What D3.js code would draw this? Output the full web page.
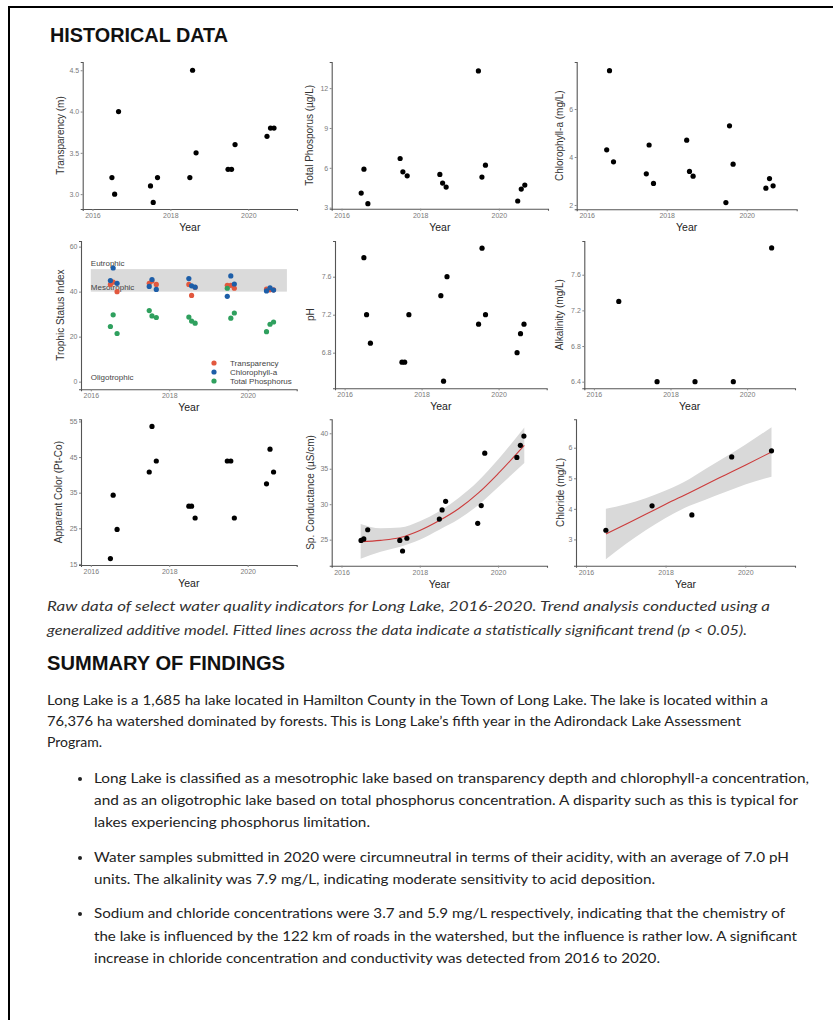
<!DOCTYPE html>
<html>
<head>
<meta charset="utf-8">
<script src="https://cdn.jsdelivr.net/npm/d3@7"></script>
<style>
    body { margin: 0; background: #fff; }
    svg text { font-family: "Liberation Sans", Arial, sans-serif; }
    .body-text { font-family: Lato, "Open Sans", sans-serif !important; font-size: 14px; fill: #222; }
</style>
</head>
<body>
<div id="page"></div>
<script>
    // ---- data ----
    // sampling dates (decimal year), three visits a summer
    var sampleDate = [2016.5, 2016.57, 2016.67, 2017.49, 2017.56, 2017.67, 2018.5, 2018.57, 2018.66,
        2019.48, 2019.57, 2019.66, 2020.48, 2020.57, 2020.66];
    var transparency = [3.2, 3.0, 4.0, 3.1, 2.9, 3.2, 3.2, 4.5, 3.5, 3.3, 3.3, 3.6, 3.7, 3.8, 3.8];
    var phosphorus = [4.1, 5.9, 3.3, 6.7, 5.7, 5.4, 5.5, 4.85, 4.55, 13.3, 5.3, 6.2, 3.5, 4.4, 4.7];
    var chlorophyll = [4.3, 7.6, 3.8, 3.3, 4.5, 2.9, 4.7, 3.4, 3.2, 2.1, 5.3, 3.7, 2.7, 3.1, 2.8];
    var tsiTransp = [43.2, 44.2, 40.0, 43.7, 44.7, 43.2, 43.2, 38.3, 41.9, 42.8, 42.8, 41.5, 41.1, 40.8, 40.8];
    var tsiChl = [44.9, 50.5, 43.7, 42.3, 45.4, 41.0, 45.8, 42.6, 42.0, 37.9, 47.0, 43.4, 40.3, 41.7, 40.7];
    var tsiTP = [24.5, 29.7, 21.4, 31.6, 29.2, 28.5, 28.7, 26.9, 26.0, 41.5, 28.2, 30.5, 22.2, 25.5, 26.5];
    var ph = [7.8, 7.2, 6.9, 6.7, 6.7, 7.2, 7.4, 6.5, 7.6, 7.1, 7.9, 7.2, 6.8, 7.0, 7.1];
    var color = [16.5, 34.3, 24.7, 40.8, 53.6, 43.9, 31.2, 31.2, 27.9, 43.9, 43.9, 27.9, 37.5, 47.2, 40.8];
    var conductance = [24.9, 25.1, 26.4, 24.9, 23.4, 25.2, 27.9, 29.2, 30.4, 27.3, 29.8, 37.2, 36.6, 38.3, 39.6];

    // annual samples
    var alkDate = [2016.65, 2017.65, 2018.64, 2019.64, 2020.64];
    var alkalinity = [7.3, 6.4, 6.4, 6.4, 7.9];
    var clDate = [2016.5, 2017.66, 2018.66, 2019.66, 2020.66];
    var chloride = [3.3, 4.1, 3.8, 5.7, 5.9];

    // GAM fits with confidence band
    var condFitDate = [2016.49, 2017.0, 2017.5, 2018.0, 2018.5, 2019.0, 2019.5, 2020.0, 2020.67];
    var condFit = [24.7, 24.9, 25.3, 26.3, 27.7, 29.4, 31.6, 34.3, 38.3];
    var condLo = [22.3, 23.3, 24.0, 25.0, 26.4, 27.9, 29.9, 32.4, 35.8];
    var condHi = [27.2, 26.6, 26.7, 27.6, 29.0, 30.9, 33.3, 36.3, 40.8];
    var clFitDate = [2016.5, 2017.0, 2017.5, 2018.0, 2018.6, 2019.0, 2019.5, 2020.0, 2020.66];
    var clFit = [3.18, 3.50, 3.82, 4.15, 4.53, 4.79, 5.11, 5.43, 5.86];
    var clLo = [2.35, 2.85, 3.3, 3.7, 4.1, 4.3, 4.55, 4.8, 5.05];
    var clHi = [4.0, 4.15, 4.35, 4.6, 4.98, 5.3, 5.7, 6.1, 6.67];

    // trophic classes
    var trophicBand = [40, 50];
    var trophicLabels = ['Eutrophic', 'Mesotrophic', 'Oligotrophic'];
    var trophicLabelY = [52.7, 42, 1.8];

    // ticks
    var yearTicks = [2016, 2018, 2020];
    var transpTicks = [3.0, 3.5, 4.0, 4.5];
    var tpTicks = [3, 6, 9, 12];
    var chlTicks = [2, 4, 6];
    var tsiTicks = [0, 20, 40, 60];
    var phTicks = [6.8, 7.2, 7.6];
    var alkTicks = [6.4, 6.8, 7.2, 7.6];
    var colorTicks = [15, 25, 35, 45, 55];
    var condTicks = [25, 30, 35, 40];
    var clTicks = [3, 4, 5, 6];

    var tsiSeries = ['Transparency', 'Chlorophyll-a', 'Total Phosphorus'];
    var tsiColors = ['#e2583e', '#1d5ea8', '#2fa05e'];

    var xDomain = [2015.75, 2021.25];

    var svg = d3.select('#page').append('svg')
        .attr('width', 833)
        .attr('height', 1020);

    // page frame
    svg.append('rect')
        .attr('x', 9).attr('y', 7)
        .attr('width', 840).attr('height', 1040)
        .attr('fill', 'none')
        .attr('stroke', '#000')
        .attr('stroke-width', 2);

    svg.append('text')
        .attr('x', 50).attr('y', 42)
        .attr('font-size', 20).attr('font-weight', 'bold')
        .attr('fill', '#111')
        .attr('textLength', 178).attr('lengthAdjust', 'spacingAndGlyphs')
        .text('HISTORICAL DATA');

    function zip(xs, ys) {
        return xs.map(function (d, i) { return [d, ys[i]]; });
    }

    // Draw one small scatter panel
    function drawPanel(p) {
        var x = d3.scaleLinear().domain(xDomain).range([p.left, p.right]);
        var y = d3.scaleLinear().domain(p.yDomain).range([p.bottom, p.top]);
        var g = svg.append('g');

        if (p.band) {
            g.append('rect')
                .attr('x', x(2016)).attr('width', x(2021) - x(2016))
                .attr('y', y(p.band[1])).attr('height', y(p.band[0]) - y(p.band[1]))
                .attr('fill', '#dadada');
            p.labels.forEach(function (t, i) {
                g.append('text')
                    .attr('x', x(2016)).attr('y', y(p.labelY[i]))
                    .attr('dy', '0.35em')
                    .attr('font-size', 8).attr('fill', '#444')
                    .text(t);
            });
        }

        if (p.fit) {
            var pts = p.fit.date.map(function (d, i) {
                return {x: d, y: p.fit.y[i], lo: p.fit.lo[i], hi: p.fit.hi[i]};
            });
            g.append('path')
                .datum(pts)
                .attr('fill', '#d9d9d9')
                .attr('d', d3.area().curve(d3.curveMonotoneX)
                    .x(function (d) { return x(d.x); })
                    .y0(function (d) { return y(d.lo); })
                    .y1(function (d) { return y(d.hi); }));
            g.append('path')
                .datum(pts)
                .attr('fill', 'none')
                .attr('stroke', '#cc3b3b')
                .attr('stroke-width', 1.1)
                .attr('d', d3.line().curve(d3.curveMonotoneX)
                    .x(function (d) { return x(d.x); })
                    .y(function (d) { return y(d.y); }));
        }

        // Axes
        var ax = g.append('g')
            .attr('transform', 'translate(0,' + p.bottom + ')')
            .call(d3.axisBottom(x).tickValues(yearTicks).tickFormat(d3.format('d'))
                .tickSizeOuter(0).tickSize(2).tickPadding(2));
        var ay = g.append('g')
            .attr('transform', 'translate(' + p.left + ',0)')
            .call(d3.axisLeft(y).tickValues(p.ticks).tickFormat(d3.format(p.fmt))
                .tickSizeOuter(0).tickSize(2).tickPadding(1.5));
        [ax, ay].forEach(function (a) {
            a.attr('font-family', null).attr('font-size', null);
            a.select('.domain').attr('stroke', '#555').attr('stroke-width', 1.1);
            a.selectAll('.tick line').attr('stroke', '#888');
            a.selectAll('.tick text').attr('fill', '#7a7a7a').attr('font-size', 7);
        });

        g.append('text')
            .attr('x', (p.left + p.right) / 2).attr('y', p.bottom + 22)
            .attr('text-anchor', 'middle')
            .attr('font-size', 10.5).attr('fill', '#222')
            .text('Year');
        g.append('text')
            .attr('transform', 'translate(' + p.titleX + ',' + (p.top + p.bottom) / 2 + ') rotate(-90)')
            .attr('dy', '0.35em')
            .attr('text-anchor', 'middle')
            .attr('font-size', 10).attr('fill', '#333')
            .text(p.title);

        p.series.forEach(function (s) {
            g.append('g').selectAll('circle')
                .data(zip(s.x, s.y))
                .enter().append('circle')
                .attr('cx', function (d) { return x(d[0]); })
                .attr('cy', function (d) { return y(d[1]); })
                .attr('r', 2.6)
                .attr('fill', s.color || '#000');
        });

        if (p.legend) {
            p.legend.forEach(function (t, i) {
                g.append('circle')
                    .attr('cx', 214).attr('cy', 363 + i * 9).attr('r', 2.6)
                    .attr('fill', tsiColors[i]);
                g.append('text')
                    .attr('x', 230).attr('y', 363 + i * 9).attr('dy', '0.35em')
                    .attr('font-size', 8).attr('fill', '#444')
                    .text(t);
            });
        }
    }

    var panels = [
        {left: 82.7, right: 297, top: 62, bottom: 209, titleX: 60, yDomain: [2.82, 4.6],
            ticks: transpTicks, fmt: '.1f', title: 'Transparency (m)',
            series: [{x: sampleDate, y: transparency}]},
        {left: 331.7, right: 548, top: 62, bottom: 208.7, titleX: 309, yDomain: [2.92, 13.97],
            ticks: tpTicks, fmt: 'd', title: 'Total Phosporus (\u00b5g/L)',
            series: [{x: sampleDate, y: phosphorus}]},
        {left: 576.7, right: 796.7, top: 62, bottom: 209.3, titleX: 559, yDomain: [1.82, 7.96],
            ticks: chlTicks, fmt: 'd', title: 'Chlorophyll-a (mg/L)',
            series: [{x: sampleDate, y: chlorophyll}]},
        {left: 81, right: 296.7, top: 241, bottom: 389.3, titleX: 60, yDomain: [-3.4, 62.5],
            ticks: tsiTicks, fmt: 'd', title: 'Trophic Status Index',
            band: trophicBand, labels: trophicLabels, labelY: trophicLabelY, legend: tsiSeries,
            series: [{x: sampleDate, y: tsiTransp, color: tsiColors[0]},
                {x: sampleDate, y: tsiChl, color: tsiColors[1]},
                {x: sampleDate, y: tsiTP, color: tsiColors[2]}]},
        {left: 335, right: 546.7, top: 241, bottom: 388.3, titleX: 310, yDomain: [6.425, 7.976],
            ticks: phTicks, fmt: '.1f', title: 'pH',
            series: [{x: sampleDate, y: ph}]},
        {left: 584.3, right: 795, top: 241, bottom: 388.3, titleX: 559, yDomain: [6.326, 7.978],
            ticks: alkTicks, fmt: '.1f', title: 'Alkalinity (mg/L)',
            series: [{x: alkDate, y: alkalinity}]},
        {left: 81, right: 296.7, top: 419.3, bottom: 565, titleX: 58, yDomain: [14.7, 55.6],
            ticks: colorTicks, fmt: 'd', title: 'Apparent Color (Pt-Co)',
            series: [{x: sampleDate, y: color}]},
        {left: 331.7, right: 547, top: 419.3, bottom: 565.7, titleX: 310, yDomain: [21.33, 41.97],
            ticks: condTicks, fmt: 'd', title: 'Sp. Conductance (\u00b5S/cm)',
            fit: {date: condFitDate, y: condFit, lo: condLo, hi: condHi},
            series: [{x: sampleDate, y: conductance}]},
        {left: 576, right: 795, top: 419.3, bottom: 565.7, titleX: 560, yDomain: [2.14, 6.93],
            ticks: clTicks, fmt: 'd', title: 'Chloride (mg/L)',
            fit: {date: clFitDate, y: clFit, lo: clLo, hi: clHi},
            series: [{x: clDate, y: chloride}]}
    ];
    panels.forEach(drawPanel);

    // ---- text below the charts ----
    var captionLines = [
        'Raw data of select water quality indicators for Long Lake, 2016-2020. Trend analysis conducted using a',
        'generalized additive model. Fitted lines across the data indicate a statistically significant trend (p < 0.05).'
    ];
    var introLines = [
        'Long Lake is a 1,685 ha lake located in Hamilton County in the Town of Long Lake. The lake is located within a',
        '76,376 ha watershed dominated by forests. This is Long Lake\u2019s fifth year in the Adirondack Lake Assessment',
        'Program.'
    ];
    var bullets = [
        ['Long Lake is classified as a mesotrophic lake based on transparency depth and chlorophyll-a concentration,',
            'and as an oligotrophic lake based on total phosphorus concentration. A disparity such as this is typical for',
            'lakes experiencing phosphorus limitation.'],
        ['Water samples submitted in 2020 were circumneutral in terms of their acidity, with an average of 7.0 pH',
            'units. The alkalinity was 7.9 mg/L, indicating moderate sensitivity to acid deposition.'],
        ['Sodium and chloride concentrations were 3.7 and 5.9 mg/L respectively, indicating that the chemistry of',
            'the lake is influenced by the 122 km of roads in the watershed, but the influence is rather low. A significant',
            'increase in chloride concentration and conductivity was detected from 2016 to 2020.']
    ];

    function textLine(str, x, cy, endX, italic) {
        var t = svg.append('text')
            .attr('class', 'body-text')
            .attr('x', x).attr('y', cy + 5)
            .text(str);
        if (italic) t.attr('font-style', 'italic').style('fill', '#333');
        if (endX) t.attr('textLength', endX - x).attr('lengthAdjust', 'spacingAndGlyphs');
        return t;
    }

    textLine(captionLines[0], 47, 606, 770, true);
    textLine(captionLines[1], 47, 630, 747, true);

    svg.append('text')
        .attr('x', 47).attr('y', 670)
        .attr('font-size', 20).attr('font-weight', 'bold')
        .attr('fill', '#111')
        .attr('textLength', 238).attr('lengthAdjust', 'spacingAndGlyphs')
        .text('SUMMARY OF FINDINGS');

    textLine(introLines[0], 47, 700, 768);
    textLine(introLines[1], 47, 721, 741);
    textLine(introLines[2], 47, 742, null);

    var bulletY = [[778, 800, 822], [857, 879], [913, 936, 958]];
    var bulletEnd = [[809, 798, 370], [789, 655], [785, 797, 660]];
    bullets.forEach(function (b, i) {
        svg.append('circle')
            .attr('cx', 80).attr('cy', bulletY[i][0] + 1).attr('r', 2)
            .attr('fill', '#222');
        b.forEach(function (line, j) {
            textLine(line, 94, bulletY[i][j], bulletEnd[i][j]);
        });
    });
</script>
</body>
</html>
